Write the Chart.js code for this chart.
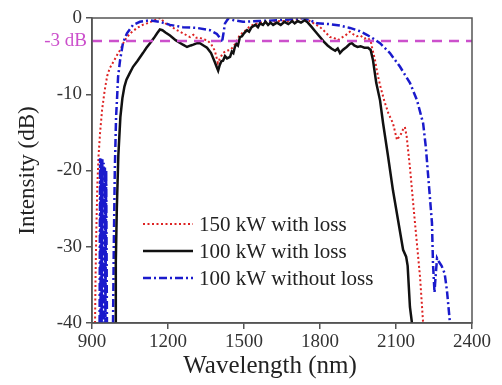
<!DOCTYPE html>
<html><head><meta charset="utf-8">
<script src="https://cdn.jsdelivr.net/npm/chart.js@4.4.1/dist/chart.umd.min.js"></script>
<style>html,body{margin:0;padding:0;background:#fff;}canvas{display:block;}</style>
</head><body>
<canvas id="c" width="502" height="385" style="width:502px;height:385px"></canvas>
<script>
const xTicks = [900, 1200, 1500, 1800, 2100, 2400];
const yTicks = [0, -10, -20, -30, -40];
const refLevel = -3;
const refLabel = '-3 dB';
const seriesNames = ['150 kW with loss', '100 kW with loss', '100 kW without loss'];
const xTitle = 'Wavelength (nm)';
const yTitle = 'Intensity (dB)';

// 150 kW with loss (red dotted)
const redX = [912,914,917,921,926,932,940,950,960,970,980,990,1000,1011,1025,1038,1055,1078,1100,1117,1140,1160,1170,1178,1190,1208,1230,1259,1275,1287,1300,1312,1326,1340,1354,1370,1385,1397,1405,1417,1430,1445,1457,1470,1484,1500,1520,1540,1570,1600,1640,1680,1710,1730,1750,1770,1785,1800,1820,1839,1855,1870,1885,1900,1918,1930,1945,1960,1975,1989,2000,2005,2017,2028,2040,2055,2070,2088,2104,2112,2120,2128,2135,2142,2155,2175,2195,2207];
const redY = [-40,-34,-28,-22,-18,-15,-12,-9.5,-7.6,-6.6,-6.0,-5.4,-4.8,-4.2,-3.2,-2.5,-1.9,-1.3,-0.9,-0.7,-0.4,-0.1,0,-0.3,-0.7,-1.0,-1.5,-2.0,-2.3,-2.5,-2.2,-2.6,-2.6,-2.8,-2.9,-3.4,-4.3,-5.9,-5.3,-4.6,-4.3,-4.2,-3.8,-3.1,-2.2,-1.8,-1.2,-0.8,-0.6,-0.5,-0.4,-0.4,-0.2,0,-0.2,-0.6,-0.9,-1.2,-1.8,-2.5,-2.6,-2.9,-2.6,-2.3,-1.8,-2.1,-2.4,-2.3,-2.7,-2.6,-3.0,-3.8,-5.5,-7.5,-9.2,-11,-12.5,-13.8,-16,-15.6,-15.2,-14.6,-14.3,-15.5,-19.6,-26.9,-34,-40];

// 100 kW with loss (black solid)
const blackX = [991,994,998,1004,1012,1020,1028,1036,1048,1062,1080,1101,1115,1129,1145,1157,1168,1178,1190,1208,1230,1259,1275,1290,1300,1315,1326,1340,1354,1370,1385,1393,1398,1404,1410,1417,1425,1433,1445,1452,1458,1464,1470,1476,1484,1492,1500,1512,1520,1530,1545,1555,1563,1575,1585,1595,1605,1615,1630,1645,1660,1675,1690,1700,1712,1725,1740,1752,1765,1780,1800,1815,1830,1845,1860,1870,1879,1890,1905,1918,1926,1935,1948,1960,1975,1990,2000,2009,2022,2037,2049,2068,2088,2108,2128,2140,2146,2155,2163];
const blackY = [-40,-32,-25,-18,-13,-10.5,-9,-8.1,-7.3,-6.4,-5.6,-4.6,-3.9,-3.3,-2.6,-2.0,-1.5,-1.6,-1.9,-2.3,-2.9,-3.5,-3.8,-3.6,-3.5,-3.3,-3.3,-3.6,-3.9,-4.6,-5.8,-6.5,-6.9,-6.2,-5.7,-5.6,-5.0,-5.3,-5.1,-4.4,-4.6,-3.8,-3.4,-3.6,-2.5,-2.4,-2.0,-1.6,-1.8,-1.2,-0.9,-1.2,-0.7,-0.9,-0.5,-0.9,-0.6,-0.9,-0.6,-0.9,-0.5,-0.8,-0.4,-0.7,-0.4,-0.6,-0.3,-0.6,-1.1,-1.7,-2.5,-3.1,-3.6,-4.0,-4.3,-4.0,-4.6,-4.2,-3.8,-3.4,-3.3,-3.6,-3.8,-3.7,-3.9,-3.9,-4.2,-5.5,-8.5,-10.8,-13.8,-18,-22.6,-26.5,-30.4,-31.3,-32.5,-37.9,-40];

// 100 kW without loss (blue dash-dot); null marks a break in the trace
const blueX = [930,932,934,936,938,941,943,946,948,951,953,956,959,970,983,986,990,995,999,1003,1011,1022,1038,1062,1089,1129,1168,1208,1259,1314,1366,1393,1405,1413,1420,1425,1437,1460,1496,1560,1630,1680,1733,1760,1788,1839,1880,1918,1955,1985,2010,2037,2076,2116,2155,2183,2207,2218,2226,2235,2242,2246,2252,2256,2262,2270,2280,2292,2301,2313];
const blueY = [-40,-18.4,-40,-18.3,-40,-18.5,-40,-19,-40,-19.5,-40,-20,-40,null,-40,-30,-20,-13,-10.5,-7.7,-5.5,-3.3,-2.0,-0.9,-0.5,-0.3,-0.5,-0.9,-1.2,-1.3,-1.6,-2.1,-2.6,-3.2,-1.8,-0.7,-0.1,-0.3,-0.5,-0.4,-0.3,-0.2,0,-0.3,-0.7,-0.8,-1.0,-1.3,-1.7,-2.2,-2.7,-3.3,-4.6,-6.4,-8.5,-10.8,-13.8,-17,-20.3,-24,-26.9,-32.2,-36,-34,-31.5,-32,-32.5,-33.5,-35.7,-40];

const refX = [900, 2400];

const RED = '#dd2222', BLACK = '#111111', BLUE = '#1a1acc', MAG = '#cc50cc';
const SERIF = "'Liberation Serif', 'Times New Roman', serif";

function pts(xs, ys) { return xs.map((x, i) => ({ x: x, y: ys[i] })); }

const legendStyles = [
  { color: RED, width: 2, dash: [2, 2.5] },
  { color: BLACK, width: 2.5, dash: [] },
  { color: BLUE, width: 2.5, dash: [8, 3, 2, 3] }
];

const decor = {
  id: 'decor',
  afterDraw(chart) {
    const { ctx, chartArea: a, scales } = chart;
    ctx.save();
    ctx.strokeStyle = '#555';
    ctx.lineWidth = 1.5;
    ctx.setLineDash([]);
    ctx.strokeRect(a.left, a.top, a.right - a.left, a.bottom - a.top);
    // reference label
    ctx.fillStyle = MAG;
    ctx.font = '19px ' + SERIF;
    ctx.textAlign = 'right';
    ctx.textBaseline = 'middle';
    ctx.fillText(refLabel, a.left - 5, scales.y.getPixelForValue(refLevel));
    // x axis title
    ctx.fillStyle = '#222';
    ctx.font = '25px ' + SERIF;
    ctx.textAlign = 'center';
    ctx.fillText(xTitle, 270, 366);
    // legend
    const rowY = [224, 251, 278];
    ctx.font = '21px ' + SERIF;
    ctx.textAlign = 'left';
    seriesNames.forEach((name, i) => {
      const s = legendStyles[i];
      ctx.strokeStyle = s.color;
      ctx.lineWidth = s.width;
      ctx.setLineDash(s.dash);
      ctx.beginPath();
      ctx.moveTo(143, rowY[i]);
      ctx.lineTo(193, rowY[i]);
      ctx.stroke();
      ctx.setLineDash([]);
      ctx.fillStyle = '#222';
      ctx.fillText(name, 199, rowY[i] + 1);
    });
    ctx.restore();
  }
};

new Chart(document.getElementById('c'), {
  type: 'scatter',
  data: {
    datasets: [
      { label: refLabel, data: pts(refX, refX.map(() => refLevel)), showLine: true, borderColor: MAG, borderWidth: 2.5, borderDash: [10, 7], pointRadius: 0, clip: false },
      { label: seriesNames[1], data: pts(blackX, blackY), showLine: true, borderColor: BLACK, borderWidth: 2.5, pointRadius: 0 },
      { label: seriesNames[2], data: pts(blueX, blueY), showLine: true, borderColor: BLUE, borderWidth: 2.5, borderDash: [8, 3, 2, 3], pointRadius: 0, spanGaps: false },
      { label: seriesNames[0], data: pts(redX, redY), showLine: true, borderColor: RED, borderWidth: 2, borderDash: [2, 2.5], pointRadius: 0 }
    ]
  },
  options: {
    responsive: false,
    animation: false,
    devicePixelRatio: 1,
    layout: { padding: { left: 0, right: 30, top: 18, bottom: 0 } },
    plugins: { legend: { display: false }, tooltip: { enabled: false } },
    scales: {
      x: {
        type: 'linear', min: 900, max: 2400,
        afterBuildTicks: s => { s.ticks = xTicks.map(v => ({ value: v })); },
        afterFit: s => { s.height = 62; },
        ticks: { font: { family: SERIF, size: 19 }, color: '#333', padding: 2, maxRotation: 0, autoSkip: false, callback: v => String(v) },
        grid: { drawOnChartArea: false, drawTicks: true, tickLength: 6, color: '#555', lineWidth: 1.5 },
        border: { color: '#555', width: 1.5 },
        title: { display: false, text: xTitle }
      },
      y: {
        type: 'linear', min: -40, max: 0,
        afterBuildTicks: s => { s.ticks = yTicks.map(v => ({ value: v })); },
        afterFit: s => { s.width = 92; },
        ticks: { font: { family: SERIF, size: 19 }, color: '#333', padding: 4, autoSkip: false, callback: v => String(v) },
        grid: { drawOnChartArea: false, drawTicks: true, tickLength: 6, color: '#555', lineWidth: 1.5 },
        border: { color: '#555', width: 1.5 },
        title: { display: true, text: yTitle, font: { family: SERIF, size: 23 }, color: '#222', padding: { top: 14, bottom: 0 } }
      }
    }
  },
  plugins: [decor]
});
</script>
</body></html>
